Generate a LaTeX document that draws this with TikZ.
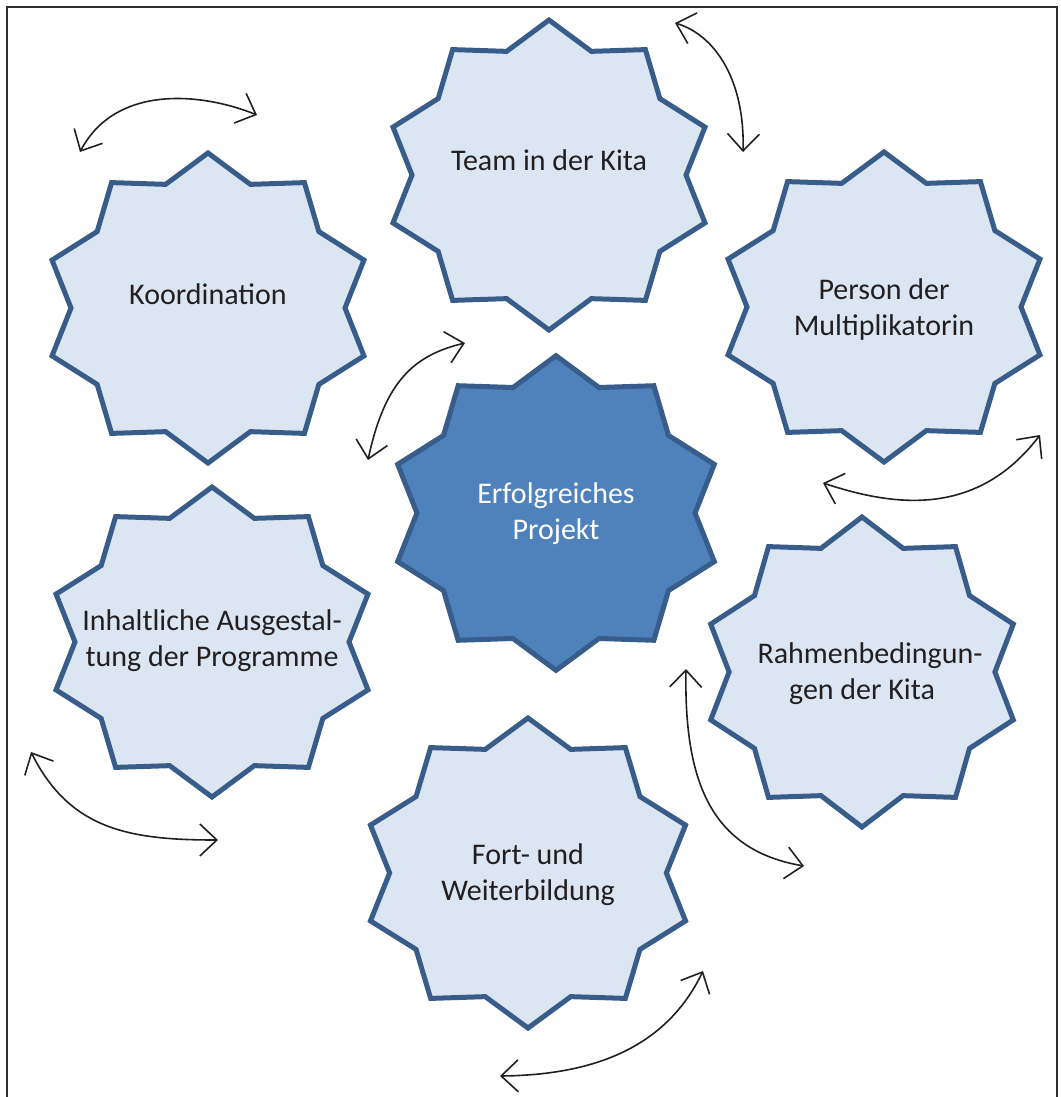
\documentclass[tikz,border=0pt]{standalone}
\usepackage{fontspec}
\setmainfont{Carlito}
\usepackage{xcolor}
\definecolor{sternrand}{RGB}{56,93,138}
\definecolor{sternhell}{RGB}{220,230,242}
\definecolor{sternkern}{RGB}{79,129,189}
\definecolor{tinte}{RGB}{35,31,32}
\definecolor{rahmen}{RGB}{45,45,45}
\usepackage{tikz}
\usetikzlibrary{arrows.meta,positioning,calc}
\tikzset{
  %% zehnzackiger Stern um den Ursprung
  stern/.pic={
    \draw[pic actions] (90:164 and 155)
      \foreach \i in {0,...,8}{ -- (108+36*\i:137 and 130) -- (126+36*\i:164 and 155)}
      -- (72:137 and 130) -- cycle;
  },
  aussen/.style={draw=sternrand, fill=sternhell, line width=5pt},
  mitte/.style={draw=sternrand, fill=sternkern, line width=5pt},
  etikett/.style={font=\fontsize{30}{36}\selectfont, text=tinte,
                  align=center, inner sep=0pt},
  pfeil/.style={draw=tinte, line width=1.6pt,
                >={Straight Barb[length=17pt,width=32pt]}, <->},
  rahmenlinie/.style={draw=rahmen, line width=2pt},
}

\begin{document}
\begin{tikzpicture}[x=1pt,y=-1pt]
\useasboundingbox (0,0) rectangle (1060,1097);
\draw[rahmenlinie] (7,1110) -- (7,7) -- (1057,7) -- (1057,1110);

%% Sterne
\pic[aussen] at (549,175) {stern};
\pic[aussen] at (208,308) {stern};
\pic[aussen] at (884,307) {stern};
\pic[mitte, scale=1.015] at (556,513) {stern};
\pic[aussen] at (212,642) {stern};
\pic[aussen, xscale=0.97] at (862,672) {stern};
\pic[aussen, xscale=1.01] at (528,873) {stern};

\node[etikett] (team)   at (549,160) {Team in der Kita};
\node[etikett] (koord)  at (208,294) {Koordination};
\node[etikett] (person) at (884,309) {Person der\\Multiplikatorin};
\node[etikett, text=white] (projekt) at (556,514) {Erfolgreiches\\Projekt};
\node[etikett] (inhalt) at (212,641) {Inhaltliche Ausgestal-\\tung der Programme};
\node[etikett] (rahmen) at (862,674) {\hspace*{16pt}Rahmenbedingun-\\gen der Kita};
\node[etikett] (fort)   at (528,875) {Fort- und\\Weiterbildung};

%% Wechselpfeile
\coordinate (p1a) at (80,152);   \coordinate (p1b) at (257,115);
\coordinate (p2a) at (675,23);   \coordinate (p2b) at (743,152);
\coordinate (p3a) at (465,343);  \coordinate (p3b) at (368,460);
\coordinate (p4a) at (823,483);  \coordinate (p4b) at (1040,435);
\coordinate (p5a) at (686,669);  \coordinate (p5b) at (804,866);
\coordinate (p6a) at (500,1076); \coordinate (p6b) at (703,971);
\coordinate (p7a) at (31,752);   \coordinate (p7b) at (218,840);

\draw[pfeil] (p1a) .. controls (115,85) and (200,92) .. (p1b);
\draw[pfeil] (p2a) .. controls (715,35) and (745,80) .. (p2b);
\draw[pfeil] (p3a) .. controls (415,355) and (385,380) .. (p3b);
\draw[pfeil] (p4a) .. controls (890,505) and (975,520) .. (p4b);
\draw[pfeil] (p5a) .. controls (684,780) and (710,850) .. (p5b);
\draw[pfeil] (p6a) .. controls (590,1075) and (665,1050) .. (p6b);
\draw[pfeil] (p7a) .. controls (70,830) and (130,840) .. (p7b);
\end{tikzpicture}
\end{document}
